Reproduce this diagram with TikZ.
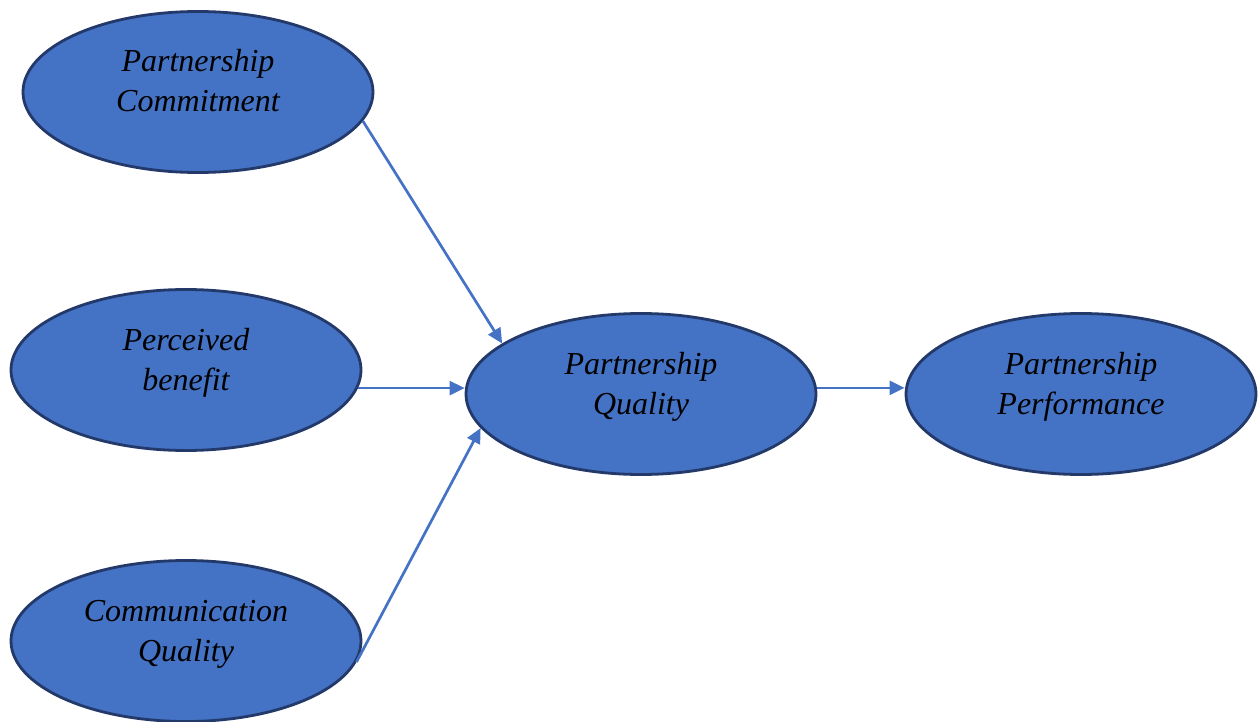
\documentclass[tikz,border=0pt]{standalone}
\usepackage{fontspec}
\setmainfont{Liberation Serif}
\usetikzlibrary{shapes.geometric}
\usetikzlibrary{arrows.meta}
\definecolor{boxblue}{HTML}{4472C4}
\definecolor{rimblue}{HTML}{22396A}

\begin{document}
\begin{tikzpicture}[x=1pt, y=-1pt,
    factor/.style={ellipse, draw=rimblue, fill=boxblue, line width=2.8pt,
                   minimum width=350pt, minimum height=161pt, inner sep=0pt},
    caption/.style={align=center, inner sep=0pt, font=\fontsize{32}{40}\selectfont\itshape},
    link/.style={draw=boxblue, line width=2.7pt, -{Triangle[length=15pt, width=14pt]}}]
        \useasboundingbox (0,0) rectangle (1260,722);

        \node[factor] (pc) at (198,92)   {};
        \node[factor] (pb) at (186,370)  {};
        \node[factor] (cq) at (186,641)  {};
        \node[factor] (pq) at (641,394)  {};
        \node[factor] (pp) at (1081,394) {};

        % captions, two struts per node keep the baselines 40pt apart
        \node[caption] (pc-t) at ([yshift=8pt]pc) {\strut Partnership\\\strut Commitment};
        \node[caption] (pb-t) at ([yshift=8pt]pb) {\strut Perceived\\\strut benefit};
        \node[caption] (cq-t) at ([yshift=8pt]cq) {\strut Communication\\\strut Quality};
        \node[caption] (pq-t) at ([yshift=8pt]pq) {\strut Partnership\\\strut Quality};
        \node[caption] (pp-t) at ([yshift=8pt]pp) {\strut Partnership\\\strut Performance};

        \draw[link] (pc.-10)  -- (pq.160);
        \draw[link] (pb.-6)   -- (pb.-6 -| pq.west);
        \draw[link] (cq.-7)   -- (pq.-168);
        \draw[link] (pq.2.3)  -- (pq.2.3 -| pp.west);
    \end{tikzpicture}
\end{document}
